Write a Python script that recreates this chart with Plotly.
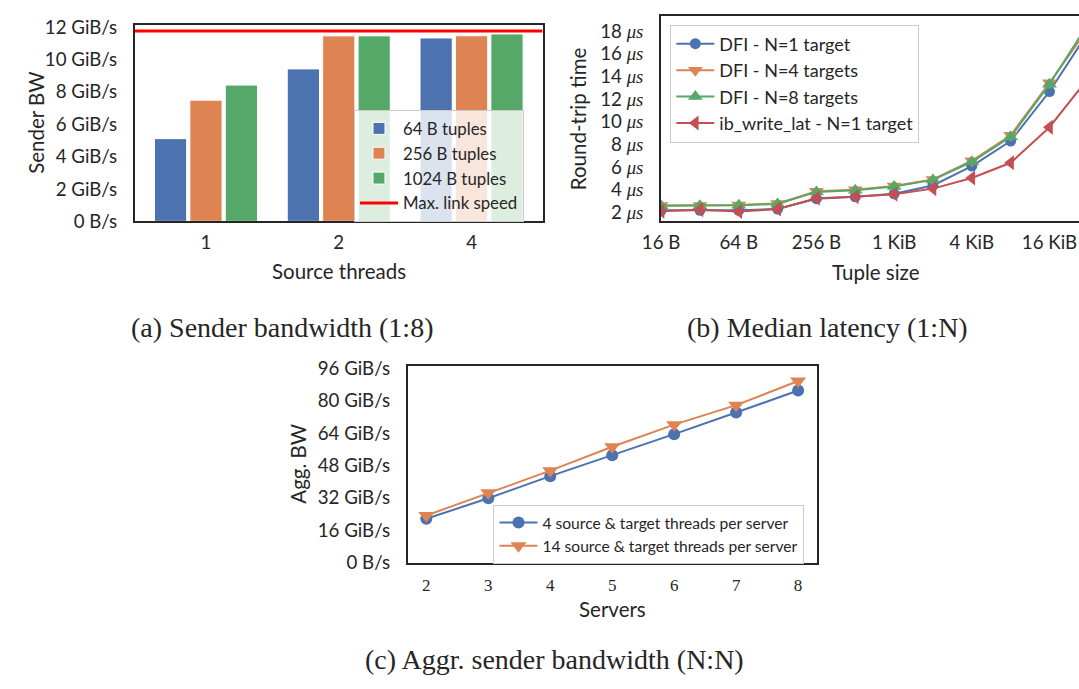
import plotly.graph_objects as go

# ---------------- data ----------------
# (a) Sender bandwidth (1:8)
threads = ["1", "2", "4"]
bw_64 = [5.11, 9.42, 11.33]
bw_256 = [7.49, 11.46, 11.47]
bw_1024 = [8.42, 11.46, 11.58]
link_speed = 11.76
bw_ticks = [0, 2, 4, 6, 8, 10, 12]
bw_ticktext = ["0 B/s", "2 GiB/s", "4 GiB/s", "6 GiB/s", "8 GiB/s", "10 GiB/s", "12 GiB/s"]

# (b) Median latency (1:N)
tuple_sizes = [16, 32, 64, 128, 256, 512, 1024, 2048, 4096, 8192, 16384, 32768]
lat_dfi_1 = [2.17, 2.17, 2.17, 2.29, 3.20, 3.37, 3.63, 4.37, 6.08, 8.29, 12.66, 17.9]
lat_dfi_4 = [2.60, 2.60, 2.65, 2.78, 3.85, 4.00, 4.33, 4.90, 6.55, 8.80, 13.43, 18.25]
lat_dfi_8 = [2.57, 2.57, 2.63, 2.74, 3.80, 3.94, 4.28, 4.86, 6.46, 8.66, 13.30, 18.66]
lat_ib = [2.09, 2.23, 2.06, 2.29, 3.23, 3.37, 3.60, 4.09, 5.03, 6.37, 9.51, 13.84]
size_ticks = [16, 64, 256, 1024, 4096, 16384]
size_ticktext = ["16 B", "64 B", "256 B", "1 KiB", "4 KiB", "16 KiB"]
lat_ticks = [2, 4, 6, 8, 10, 12, 14, 16, 18]

# (c) Aggr. sender bandwidth (N:N)
servers = [2, 3, 4, 5, 6, 7, 8]
agg_4 = [21.7, 31.8, 42.7, 53.0, 63.4, 74.1, 84.9]
agg_14 = [23.3, 34.5, 45.4, 57.2, 68.1, 77.7, 89.6]
agg_ticks = [0, 16, 32, 48, 64, 80, 96]
agg_ticktext = ["0 B/s", "16 GiB/s", "32 GiB/s", "48 GiB/s", "64 GiB/s", "80 GiB/s", "96 GiB/s"]

# ---------------- style ----------------
W, H = 1079, 689
BLUE, ORANGE, GREEN, RED = "#4C72B0", "#DD8452", "#55A868", "#C44E52"
SANS = "Lato"
SERIF = "Liberation Serif"
TXT = "#262626"
TICK = 18.7
TITLE = 20.5


def px(x):
    return x / W


def py(y):
    return 1 - y / H


fig = go.Figure()

# ---- (a) bars ----
for name, vals, col in [("64 B tuples", bw_64, BLUE), ("256 B tuples", bw_256, ORANGE),
                        ("1024 B tuples", bw_1024, GREEN)]:
    fig.add_trace(go.Bar(x=threads, y=vals, name=name, marker=dict(color=col, line=dict(color="white", width=1)),
                         xaxis="x", yaxis="y", legend="legend"))
fig.add_trace(go.Scatter(x=[0, 1], y=[link_speed, link_speed], mode="lines", name="Max. link speed",
                         line=dict(color="#FF0000", width=3), xaxis="x4", yaxis="y", legend="legend"))

# ---- (b) lines ----
for name, vals, col, sym, sz in [("DFI - N=1 target", lat_dfi_1, BLUE, "circle", 11),
                                 ("DFI - N=4 targets", lat_dfi_4, ORANGE, "triangle-down", 13),
                                 ("DFI - N=8 targets", lat_dfi_8, GREEN, "triangle-up", 13),
                                 ("ib_write_lat - N=1 target", lat_ib, RED, "triangle-left", 13)]:
    fig.add_trace(go.Scatter(x=tuple_sizes, y=vals, name=name, mode="lines+markers",
                             line=dict(color=col, width=2), marker=dict(symbol=sym, size=sz, color=col),
                             xaxis="x2", yaxis="y2", legend="legend2"))

# ---- (c) lines ----
for name, vals, col, sym, sz in [("4 source & target threads per server", agg_4, BLUE, "circle", 12),
                                 ("14 source & target threads per server", agg_14, ORANGE, "triangle-down", 14)]:
    fig.add_trace(go.Scatter(x=servers, y=vals, name=name, mode="lines+markers",
                             line=dict(color=col, width=2), marker=dict(symbol=sym, size=sz, color=col),
                             xaxis="x3", yaxis="y3", legend="legend3"))

axis_common = dict(showgrid=False, zeroline=False, showline=True, linecolor=TXT, linewidth=2,
                   ticks="", tickfont=dict(family=SANS, size=TICK, color=TXT))

mu = "<span style=\"font-family:Liberation Serif\"><i>\u03bcs</i></span>"

legend_common = dict(xanchor="left", yanchor="top", bgcolor="rgba(255,255,255,0.8)",
                     bordercolor="#cccccc", borderwidth=1, traceorder="normal", itemwidth=38)

fig.update_layout(
    width=W, height=H, margin=dict(l=0, r=0, t=0, b=0),
    paper_bgcolor="white", plot_bgcolor="white",
    barmode="group", bargap=0.2, bargroupgap=0.09,
    font=dict(family=SANS, color=TXT),
    xaxis=dict(axis_common, domain=[px(118), px(533)], anchor="y", type="category",
               range=[-0.535, 2.535], mirror=True, ticklabelstandoff=3),
    yaxis=dict(axis_common, domain=[py(218.7), py(16)], anchor="x", range=[0, 12.16],
               tickvals=bw_ticks, ticktext=bw_ticktext, mirror=True, ticklabelstandoff=12),
    xaxis4=dict(overlaying="x", range=[0, 1], visible=False, anchor="y"),
    xaxis2=dict(axis_common, domain=[px(653.6), 1.0], anchor="y2", type="log",
                range=[1.2041, 4.4432], tickvals=size_ticks, ticktext=size_ticktext,
                mirror=True, ticklabelstandoff=3),
    yaxis2=dict(axis_common, domain=[py(218.7), py(6.7)], anchor="x2", range=[1.2, 19.37],
                tickvals=lat_ticks, ticktext=[f"{v} {mu}" for v in lat_ticks],
                mirror=False, ticklabelstandoff=12),
    xaxis3=dict(axis_common, domain=[px(395.7), px(812)], anchor="y3", range=[1.7, 8.3],
                tickvals=servers, tickfont=dict(family=SERIF, size=17, color=TXT),
                mirror=True, ticklabelstandoff=6),
    yaxis3=dict(axis_common, domain=[py(570.3), py(367.7)], anchor="x3", range=[0, 97],
                tickvals=agg_ticks, ticktext=agg_ticktext, mirror=True, ticklabelstandoff=12),
    legend=dict(legend_common, x=px(341), y=py(104), font=dict(family=SANS, size=16.8, color=TXT)),
    legend2=dict(legend_common, x=px(663), y=py(16), font=dict(family=SANS, size=18, color=TXT)),
    legend3=dict(legend_common, x=px(483), y=py(510.7), font=dict(family=SANS, size=15.6, color=TXT)),
    showlegend=True,
)

annots = [
    ("Sender BW", 17, 117.5, -90, SANS, TITLE),
    ("Source threads", 326, 270, 0, SANS, TITLE),
    ("Round-trip time", 569, 112.5, -90, SANS, TITLE),
    ("Tuple size", 872, 270.7, 0, SANS, TITLE),
    ("Agg. BW", 284, 468.3, -90, SANS, TITLE),
    ("Servers", 604, 618, 0, SANS, TITLE),
    ("(a) Sender bandwidth (1:8)", 267.5, 328, 0, SERIF, 28),
    ("(b) Median latency (1:N)", 823, 328, 0, SERIF, 28),
    ("(c) Aggr. sender bandwidth (N:N)", 545, 670, 0, SERIF, 28),
]
for text, x, y, ang, fam, sz in annots:
    fig.add_annotation(text=text, x=px(x), y=py(y), xref="paper", yref="paper", showarrow=False,
                       xanchor="center", yanchor="middle", textangle=ang,
                       font=dict(family=fam, size=sz, color=TXT))

fig.write_html("out.html", post_script="document.body.style.margin='0';document.body.style.padding='0';")
